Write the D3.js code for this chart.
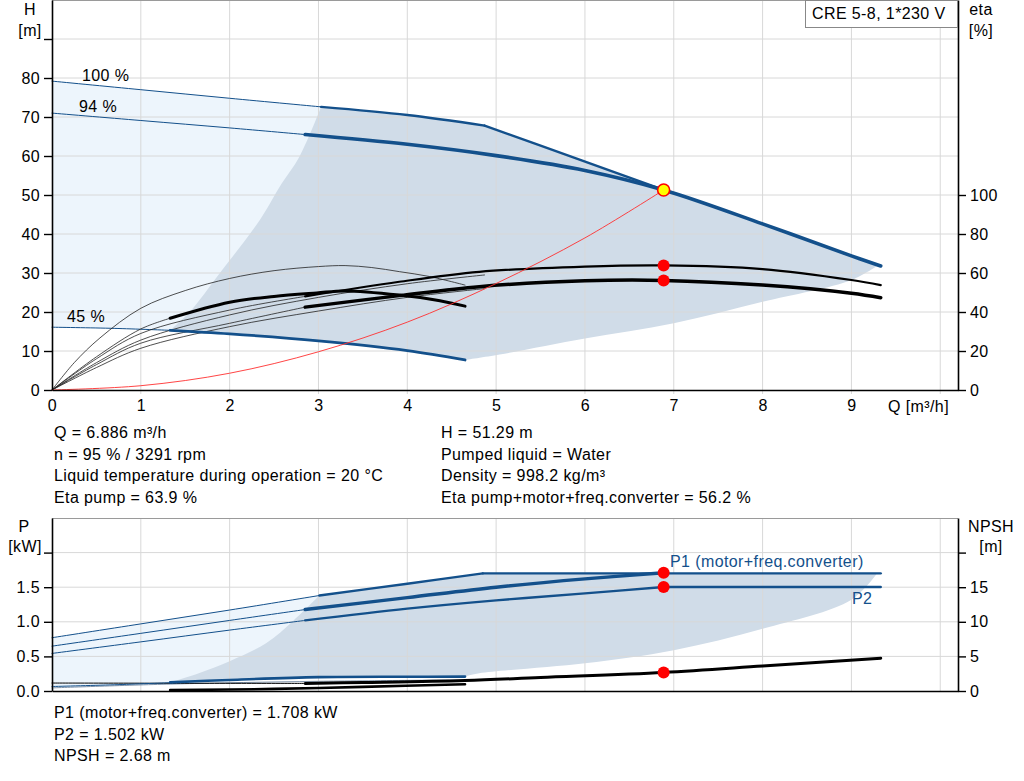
<!DOCTYPE html>
<html>
<head>
<meta charset="utf-8">
<script src="https://cdn.jsdelivr.net/npm/d3@7"></script>
<style>
  body { margin: 0; background: #fff; }
  svg { display: block; font-family: Arial, "Liberation Sans", sans-serif; }
  svg text { font-size: 16px; letter-spacing: 0.4px; }
  .tick text { fill: #000; }
</style>
</head>
<body>
<svg id="chart" width="1024" height="781"></svg>
<script>
// ---- data (Q in m³/h) ----
const qTicks = [0, 1, 2, 3, 4, 5, 6, 7, 8, 9]
const hTicks = [0, 10, 20, 30, 40, 50, 60, 70, 80, 90]
const etaTicks = [0, 20, 40, 60, 80, 100]
const pTicks = [0, 0.5, 1, 1.5, 2]
const npshTicks = [0, 5, 10, 15, 20]

// Q-H curves [Q, H m]
const qh100Thin = [[0, 79.2], [1, 77.0], [2, 74.8], [3.03, 72.6]]
const qh100 = [[3.03, 72.6], [4, 70.5], [4.87, 67.8]]
const qhMax = [[4.87, 67.8], [5.9, 59.4], [6.886, 51.29]]
const qh95Thin = [[0, 71.0], [1, 69.1], [2, 67.2], [2.85, 65.5]]
const qh95 = [[2.85, 65.5], [4, 63.0], [5, 60.1], [6, 56.3], [6.886, 51.29], [8, 42.6], [9, 34.4], [9.33, 31.8]]
const qh45Thin = [[0, 16.1], [0.7, 15.8], [1.33, 15.3]]
const qh45 = [[1.33, 15.3], [2, 14.4], [3, 12.6], [4, 10.1], [4.65, 7.7]]
const minFlowH = [[1.33, 15.3], [1.55, 20], [1.89, 30], [2.34, 43.6], [2.56, 52], [2.79, 60], [3.03, 72.6]]
const maxFlowH = [[4.65, 7.7], [5.04, 9.1], [6, 13.2], [7, 17.1], [8, 22.6], [9, 28.2], [9.3, 32.0]]
const systemH = [[0, 0], [1, 1.1], [2, 4.3], [3, 9.8], [4, 17.4], [5, 27.3], [6, 39.0], [6.886, 51.29]]

// efficiency curves [Q, eta %]
const etaPump100 = [[0, 0], [0.5, 14], [1, 25.6], [2, 38.5], [3, 47.5], [4, 54.5], [4.87, 59]]
const etaTot100 = [[0, 0], [0.5, 11.5], [1, 21.4], [2, 32.5], [3, 40.5], [4, 47.5], [4.87, 52]]
const etaPump95Thin = [[0, 0], [0.5, 16], [1, 29], [2, 41], [2.85, 48]]
const etaPump95 = [[2.85, 48], [3.91, 55.5], [4.81, 60.6], [6, 63.3], [6.886, 63.9], [8, 62.0], [9, 56.4], [9.33, 53.8]]
const etaTot95Thin = [[0, 0], [0.5, 13], [1, 24], [2, 34.2], [2.85, 42.5]]
const etaTot95 = [[2.85, 42.5], [3.91, 48.4], [4.81, 53], [6, 56], [6.886, 56.2], [8, 53.8], [9, 49.6], [9.33, 47.3]]
const etaPump45 = [[0, 0], [0.25, 14], [0.54, 26.7], [1, 41.9], [1.5, 51], [2, 57.2], [2.5, 61.2], [3.0, 63.3], [3.3, 63.8], [3.6, 62.8], [3.91, 60.7], [4.25, 58.2], [4.65, 53.8]]
const etaTot45Thin = [[0, 0], [0.5, 17], [1, 31.3], [1.33, 36.8]]
const etaTot45 = [[1.33, 36.8], [2, 45], [2.5, 48], [2.98, 49.8], [3.3, 50.8], [3.91, 48.7], [4.3, 46.3], [4.65, 43]]

// power curves [Q, P kW]
const p1_100Thin = [[0, 0.77], [1, 0.97], [2, 1.17], [3.01, 1.38]]
const p1_100 = [[3.01, 1.38], [4, 1.55], [4.85, 1.70]]
const p1Max = [[4.85, 1.70], [9.33, 1.70]]
const p1_95Thin = [[0, 0.648], [1, 0.833], [2, 1.02], [2.85, 1.177]]
const p1_95 = [[2.85, 1.177], [4, 1.35], [5, 1.50], [6, 1.62], [6.886, 1.708]]
const p2_95Thin = [[0, 0.543], [1, 0.71], [2, 0.88], [2.85, 1.02]]
const p2_95 = [[2.85, 1.02], [4, 1.19], [5, 1.31], [6, 1.41], [6.886, 1.502]]
const p2Max = [[6.886, 1.502], [9.33, 1.502]]
const p1_45Thin = [[0, 0.065], [0.7, 0.09], [1.33, 0.12]]
const p1_45 = [[1.33, 0.125], [2, 0.16], [3, 0.2], [4, 0.206], [4.65, 0.208]]
const p2_45 = [[0, 0.045], [1.33, 0.1], [3, 0.14], [4.65, 0.16]]
const minFlowP = [[1.33, 0.125], [1.66, 0.26], [2.0, 0.43], [2.41, 0.69], [2.72, 1.02], [3.01, 1.38]]
const maxFlowP = [[4.65, 0.208], [4.81, 0.255], [6, 0.40], [7, 0.59], [8, 0.90], [9, 1.32], [9.29, 1.70]]

// NPSH curves [Q, m]
const npsh95Thin = [[0, 1.15], [1.4, 1.12], [2.85, 1.1]]
const npsh95 = [[2.85, 1.1], [3.5, 1.22], [4.65, 1.5], [5.5, 1.95], [6.886, 2.68], [8, 3.6], [9.33, 4.75]]
const npsh45 = [[1.33, 0.12], [2.5, 0.3], [3.5, 0.6], [4.65, 0.97]]

// duty point
const duty = { q: 6.886, h: 51.29, etaPump: 63.9, etaTot: 56.2, p1: 1.708, p2: 1.502, npsh: 2.68 }

const infoLeft = ["Q = 6.886 m³/h", "n = 95 % / 3291 rpm", "Liquid temperature during operation = 20 °C", "Eta pump = 63.9 %"]
const infoRight = ["H = 51.29 m", "Pumped liquid = Water", "Density = 998.2 kg/m³", "Eta pump+motor+freq.converter = 56.2 %"]
const infoBottom = ["P1 (motor+freq.converter) = 1.708 kW", "P2 = 1.502 kW", "NPSH = 2.68 m"]

const BLUE = "#13508b"
const DARK = "#d0dce8"
const LIGHT = "#edf5fc"
const GRID = "#d8d8d8"

const svg = d3.select("#chart")

const x = d3.scaleLinear().domain([0, 10.2]).range([52, 958])
const yH = d3.scaleLinear().domain([0, 100]).range([390, 0])
const yE = d3.scaleLinear().domain([0, 200]).range([390, 0])
const yP = d3.scaleLinear().domain([0, 2.5]).range([691, 518])
const yN = d3.scaleLinear().domain([0, 25]).range([691, 518])

const lineGen = y => d3.line()
    .x(d => x(d[0]))
    .y(d => y(d[1]))
    .curve(d3.curveCatmullRom.alpha(0.5))

// joins several curve pieces into one closed outline
function outline(parts) {
    return parts.map((p, i) => {
        const d = lineGen(p[1])(p[0])
        return i === 0 ? d : "L" + d.slice(1)
    }).join("") + "Z"
}

function curve(pts, y, color, width) {
    svg.append("path")
        .attr("d", lineGen(y)(pts))
        .attr("fill", "none")
        .attr("stroke", color)
        .attr("stroke-width", width)
        .attr("stroke-linecap", "round")
}

const rev = a => a.slice().reverse()

// ---------- fills ----------
svg.append("path")
    .attr("fill", LIGHT)
    .attr("d", outline([[qh100Thin, yH], [rev(qh45).filter(d => d[0] <= 3.03).concat(rev(qh45Thin)), yH]]))
svg.append("path")
    .attr("fill", DARK)
    .attr("d", outline([
        [minFlowH, yH], [qh100, yH], [qhMax, yH],
        [qh95.filter(d => d[0] >= 6.886 && d[0] <= 9.3).concat([[9.3, 32.0]]), yH],
        [rev(maxFlowH), yH], [rev(qh45).filter(d => d[0] >= 1.33), yH]
    ]))

svg.append("path")
    .attr("fill", LIGHT)
    .attr("d", outline([[p1_100Thin, yP], [[[3.01, 0.2]].concat(rev(p1_45).filter(d => d[0] < 3.01), rev(p1_45Thin)), yP]]))
svg.append("path")
    .attr("fill", DARK)
    .attr("d", outline([
        [minFlowP, yP], [p1_100, yP], [[[4.85, 1.70], [9.29, 1.70]], yP],
        [rev(maxFlowP), yP], [rev(p1_45), yP]
    ]))

// ---------- grids ----------
const gridQ = d3.range(1, 11)
svg.append("g").selectAll("line").data(gridQ).join("line")
    .attr("x1", d => x(d)).attr("x2", d => x(d)).attr("y1", 0).attr("y2", 394)
    .attr("stroke", GRID)
svg.append("g").selectAll("line").data(d3.range(10, 100, 10)).join("line")
    .attr("x1", 52).attr("x2", 958).attr("y1", d => yH(d)).attr("y2", d => yH(d))
    .attr("stroke", GRID)
svg.append("g").selectAll("line").data(gridQ).join("line")
    .attr("x1", d => x(d)).attr("x2", d => x(d)).attr("y1", 518).attr("y2", 691)
    .attr("stroke", GRID)
svg.append("g").selectAll("line").data([0.5, 1, 1.5, 2]).join("line")
    .attr("x1", 52).attr("x2", 958).attr("y1", d => yP(d)).attr("y2", d => yP(d))
    .attr("stroke", GRID)

// top borders
svg.append("line").attr("x1", 52).attr("x2", 958).attr("y1", 0.5).attr("y2", 0.5).attr("stroke", "#9a9a9a")
svg.append("line").attr("x1", 52).attr("x2", 958).attr("y1", 518.5).attr("y2", 518.5).attr("stroke", "#9a9a9a")

// ---------- top chart curves ----------
curve(qh100Thin, yH, BLUE, 1)
curve(qh95Thin, yH, BLUE, 1)
curve(qh45Thin, yH, BLUE, 1)

curve(etaPump100, yE, "#222", 0.8)
curve(etaTot100, yE, "#222", 0.8)
curve(etaPump95Thin, yE, "#222", 0.8)
curve(etaTot95Thin, yE, "#222", 0.8)
curve(etaPump45, yE, "#222", 0.8)
curve(etaTot45Thin, yE, "#222", 0.8)
curve(etaTot45, yE, "#000", 3)
curve(etaPump95, yE, "#000", 2.2)
curve(etaTot95, yE, "#000", 3.5)

curve(qh45, yH, BLUE, 2.8)
curve(qh100, yH, BLUE, 2.4)
curve(qhMax, yH, BLUE, 2.4)
curve(qh95, yH, BLUE, 3.6)

curve(systemH, yH, "#ff3030", 0.9)

// ---------- bottom chart curves ----------
curve(p2_45, yP, "#7f93aa", 1)
curve(npsh95Thin, yN, "#000", 1)
curve(p1_45Thin, yP, BLUE, 1)
curve(p1_45, yP, BLUE, 2.6)
curve(npsh45, yN, "#000", 2.6)
curve(npsh95, yN, "#000", 3)

curve(p1_100Thin, yP, BLUE, 1)
curve(p1_95Thin, yP, BLUE, 1)
curve(p2_95Thin, yP, BLUE, 1)
curve(p1_100, yP, BLUE, 2.4)
curve(p1Max, yP, BLUE, 2.4)
curve(p2_95, yP, BLUE, 2.4)
curve(p2Max, yP, BLUE, 2.4)
curve(p1_95, yP, BLUE, 3.4)

// ---------- duty markers ----------
svg.append("circle").attr("cx", x(duty.q)).attr("cy", yH(duty.h)).attr("r", 6)
    .attr("fill", "#ffff00").attr("stroke", "#ff0000").attr("stroke-width", 1.6)
const dots = [[duty.etaPump, yE], [duty.etaTot, yE], [duty.p1, yP], [duty.p2, yP], [duty.npsh, yN]]
svg.append("g").selectAll("circle").data(dots).join("circle")
    .attr("cx", x(duty.q)).attr("cy", d => d[1](d[0])).attr("r", 6)
    .attr("fill", "#ff0000")

// ---------- axes ----------
function styleAxis(g) {
    g.attr("font-size", null).attr("font-family", null)
    g.select(".domain").attr("stroke", "#000").attr("stroke-width", 1.6)
    g.selectAll(".tick line").attr("stroke", "#000").attr("stroke-width", 1.4)
}

svg.append("g").attr("transform", "translate(52,0)")
    .call(d3.axisLeft(yH).tickValues(hTicks).tickSize(8).tickPadding(4).tickSizeOuter(0)
        .tickFormat(d => d <= 80 ? d : ""))
    .call(styleAxis)
svg.append("g").attr("transform", "translate(958,0)")
    .call(d3.axisRight(yE).tickValues(etaTicks).tickSize(8).tickPadding(4).tickSizeOuter(0))
    .call(styleAxis)
svg.append("g").attr("transform", "translate(0,390)")
    .call(d3.axisBottom(x).tickValues(qTicks).tickSize(0).tickPadding(10).tickSizeOuter(0))
    .call(styleAxis)

svg.append("g").attr("transform", "translate(52,0)")
    .call(d3.axisLeft(yP).tickValues(pTicks).tickSize(8).tickPadding(4).tickSizeOuter(0)
        .tickFormat(d => d < 2 ? d3.format(".1f")(d) : ""))
    .call(styleAxis)
svg.append("g").attr("transform", "translate(958,0)")
    .call(d3.axisRight(yN).tickValues(npshTicks).tickSize(8).tickPadding(4).tickSizeOuter(0)
        .tickFormat(d => d < 20 ? d : ""))
    .call(styleAxis)
svg.append("g").attr("transform", "translate(0,691)")
    .call(d3.axisBottom(x).tickValues([]).tickSizeOuter(0))
    .call(styleAxis)

// ---------- labels ----------
function label(txt, px, py, anchor, color) {
    svg.append("text").attr("x", px).attr("y", py)
        .attr("text-anchor", anchor || "start")
        .attr("fill", color || "#000")
        .text(txt)
}

label("H", 30, 15, "middle")
label("[m]", 30, 36, "middle")
label("eta", 981, 15, "middle")
label("[%]", 981, 36, "middle")
label("Q [m³/h]", 888, 412)
label("P", 24, 532, "middle")
label("[kW]", 25, 552, "middle")
label("NPSH", 991, 532, "middle")
label("[m]", 991, 552, "middle")

label("100 %", 82, 81)
label("94 %", 79, 112)
label("45 %", 67, 322)

label("P1 (motor+freq.converter)", 670, 567, "start", BLUE)
label("P2", 852, 604, "start", BLUE)

svg.append("rect").attr("x", 805.5).attr("y", 0.5).attr("width", 152).attr("height", 27)
    .attr("fill", "#fff").attr("stroke", "#888")
label("CRE 5-8, 1*230 V", 812, 19)

infoLeft.forEach((t, i) => label(t, 54, 438 + i * 21.7))
infoRight.forEach((t, i) => label(t, 441, 438 + i * 21.7))
infoBottom.forEach((t, i) => label(t, 54, 718 + i * 21.7))
</script>
</body>
</html>
